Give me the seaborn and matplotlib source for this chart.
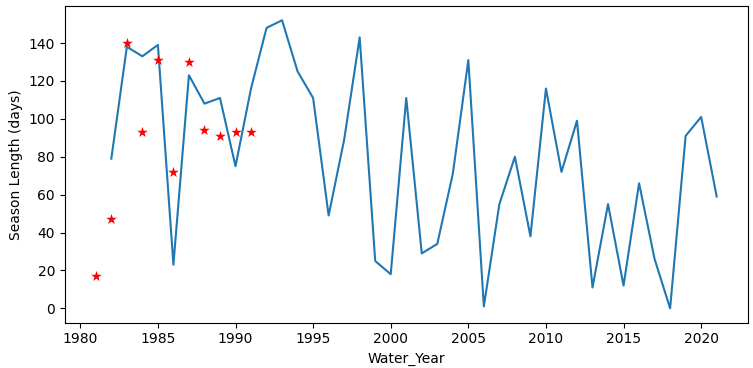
import numpy as np
import pandas as pd
import matplotlib
matplotlib.use('Agg')
import matplotlib.pyplot as plt
import seaborn as sns

# ====================== DATA ======================
water_year = list(range(1982, 2022))
season_length = [79, 138, 133, 139, 23, 123, 108, 111, 75, 116,
                 148, 152, 125, 111, 49, 89, 143, 25, 18, 111,
                 29, 34, 71, 131, 1, 55, 80, 38, 116, 72,
                 99, 11, 55, 12, 66, 26, 0, 91, 101, 59]

obs_year = list(range(1981, 1992))
obs_length = [17, 47, 140, 93, 131, 72, 130, 94, 91, 93, 93]

df = pd.DataFrame({'Water_Year': water_year, 'Season Length (days)': season_length})
obs = pd.DataFrame({'Water_Year': obs_year, 'Season Length (days)': obs_length})

# ====================== PLOT ======================
fig, ax = plt.subplots(figsize=(7.53, 3.68), dpi=100)
fig.subplots_adjust(left=0.086, right=0.993, top=0.984, bottom=0.123)

sns.lineplot(data=df, x='Water_Year', y='Season Length (days)', ax=ax, color='#1f77b4')
sns.scatterplot(data=obs, x='Water_Year', y='Season Length (days)', ax=ax,
                marker='*', color='red', s=65, linewidth=0, zorder=3)

ax.set_xticks([1980, 1985, 1990, 1995, 2000, 2005, 2010, 2015, 2020])
ax.set_xlim(1979, 2023)
ax.set_ylim(-7.6, 159.6)

fig.savefig('out.png')
